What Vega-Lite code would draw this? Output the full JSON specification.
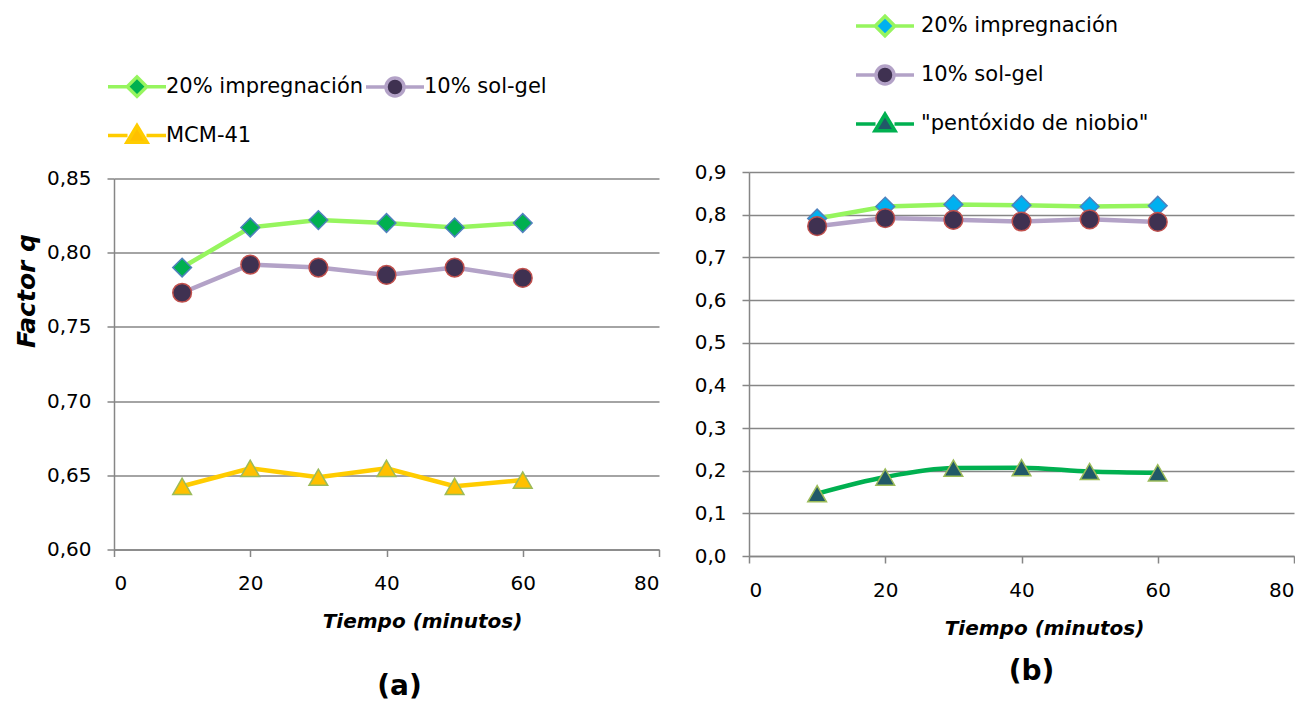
{
  "$schema": "https://vega.github.io/schema/vega-lite/v6.json",
  "background": "white",
  "padding": {"left": 13, "top": 9, "right": 0, "bottom": 0},
  "autosize": {"type": "pad"},
  "bounds": "flush",
  "spacing": 90,
  "center": true,
  "config": {
    "view": {"stroke": null},
    "font": "DejaVu Sans",
    "axis": {"domainColor": "#868686", "domainWidth": 1.5, "tickColor": "#868686", "tickWidth": 1.5, "tickSize": 7, "gridColor": "#868686", "gridWidth": 1.5, "labelFont": "DejaVu Sans", "labelFontSize": 20, "labelColor": "#000000", "titleFont": "DejaVu Sans", "titleFontSize": 20, "titleFontWeight": "bold", "titleFontStyle": "italic", "titleColor": "#000000"},
    "axisX": {"grid": false, "labelPadding": 17, "titlePadding": 18},
    "axisY": {"grid": true, "labelPadding": 16}
  },
  "datasets": {
    "a": [
      {"series": "20% impregnación", "t": 10, "q": 0.790},
      {"series": "20% impregnación", "t": 20, "q": 0.817},
      {"series": "20% impregnación", "t": 30, "q": 0.822},
      {"series": "20% impregnación", "t": 40, "q": 0.820},
      {"series": "20% impregnación", "t": 50, "q": 0.817},
      {"series": "20% impregnación", "t": 60, "q": 0.820},
      {"series": "10% sol-gel", "t": 10, "q": 0.773},
      {"series": "10% sol-gel", "t": 20, "q": 0.792},
      {"series": "10% sol-gel", "t": 30, "q": 0.790},
      {"series": "10% sol-gel", "t": 40, "q": 0.785},
      {"series": "10% sol-gel", "t": 50, "q": 0.790},
      {"series": "10% sol-gel", "t": 60, "q": 0.783},
      {"series": "MCM-41", "t": 10, "q": 0.6426},
      {"series": "MCM-41", "t": 20, "q": 0.6547},
      {"series": "MCM-41", "t": 30, "q": 0.6487},
      {"series": "MCM-41", "t": 40, "q": 0.6547},
      {"series": "MCM-41", "t": 50, "q": 0.6426},
      {"series": "MCM-41", "t": 60, "q": 0.6468}
    ],
    "b": [
      {"series": "20% impregnación", "t": 10, "q": 0.791},
      {"series": "20% impregnación", "t": 20, "q": 0.819},
      {"series": "20% impregnación", "t": 30, "q": 0.824},
      {"series": "20% impregnación", "t": 40, "q": 0.822},
      {"series": "20% impregnación", "t": 50, "q": 0.819},
      {"series": "20% impregnación", "t": 60, "q": 0.821},
      {"series": "10% sol-gel", "t": 10, "q": 0.773},
      {"series": "10% sol-gel", "t": 20, "q": 0.792},
      {"series": "10% sol-gel", "t": 30, "q": 0.788},
      {"series": "10% sol-gel", "t": 40, "q": 0.784},
      {"series": "10% sol-gel", "t": 50, "q": 0.789},
      {"series": "10% sol-gel", "t": 60, "q": 0.783},
      {"series": "\"pentóxido de niobio\"", "t": 10, "q": 0.146},
      {"series": "\"pentóxido de niobio\"", "t": 20, "q": 0.185},
      {"series": "\"pentóxido de niobio\"", "t": 30, "q": 0.206},
      {"series": "\"pentóxido de niobio\"", "t": 40, "q": 0.207},
      {"series": "\"pentóxido de niobio\"", "t": 50, "q": 0.198},
      {"series": "\"pentóxido de niobio\"", "t": 60, "q": 0.195}
    ]
  },
  "hconcat": [
    {
      "width": 545,
      "height": 371,
      "data": {"name": "a"},
      "title": {"text": "(a)", "orient": "bottom", "offset": 41, "dx": 13, "fontSize": 28, "font": "DejaVu Sans", "fontWeight": "bold", "color": "#000000"},
      "encoding": {
        "x": {"field": "t", "type": "quantitative", "scale": {"domain": [0, 80], "nice": false}, "axis": {"values": [0, 20, 40, 60, 80], "title": "Tiempo (minutos)", "titleX": 308}},
        "y": {"field": "q", "type": "quantitative", "scale": {"domain": [0.6, 0.85], "nice": false, "zero": false}, "axis": {"values": [0.6, 0.65, 0.7, 0.75, 0.8, 0.85], "labelExpr": "replace(format(datum.value, '.2f'), '.', ',')", "title": "Factor q", "titleFontSize": 25, "titleX": -88, "titleY": 112, "titleBaseline": "middle"}}
      },
      "layer": [
        {
          "mark": {"type": "line", "strokeWidth": 4.5},
          "encoding": {
            "stroke": {
              "field": "series", "type": "nominal",
              "scale": {"domain": ["20% impregnación", "10% sol-gel", "MCM-41"], "range": ["#96F55E", "#B3A2C7", "#FFCC00"]},
              "legend": {
                "orient": "none", "legendX": -8, "legendY": -109, "title": null, "columns": 2, "direction": "horizontal",
                "symbolSize": 900, "symbolStrokeWidth": 3.5, "labelFont": "DejaVu Sans", "labelFontSize": 21, "labelColor": "#000000",
                "labelOffset": 26, "rowPadding": 15, "columnPadding": -8, "padding": 0, "labelLimit": 400,
                "encode": {"symbols": {"update": {
                  "shape": {"signal": "['M-1,0L0.283,0M1.583,0L2.867,0M0.933,-0.65L1.583,0L0.933,0.65L0.283,0Z','M-1,0L0.333,0M1.533,0L2.867,0M0.333,0A0.6,0.6,0,1,0,1.533,0A0.6,0.6,0,1,0,0.333,0Z','M-1,0L0.3,0M1.566,0L2.867,0M0.933,-0.65L1.6,0.45L0.266,0.45Z'][datum.index]"},
                  "fill": {"signal": "['#00B050','#3F3151','#FFC000'][datum.index]"},
                  "fillOpacity": {"value": 1},
                  "opacity": {"value": 1}
                }}}
              }
            }
          }
        },
        {
          "mark": {"type": "point", "filled": true, "size": 350, "strokeWidth": 1.5, "opacity": 1},
          "encoding": {
            "fill": {"field": "series", "type": "nominal", "scale": {"domain": ["20% impregnación", "10% sol-gel", "MCM-41"], "range": ["#00B050", "#3F3151", "#FFC000"]}, "legend": null},
            "shape": {"field": "series", "type": "nominal", "scale": {"domain": ["20% impregnación", "10% sol-gel", "MCM-41"], "range": ["diamond", "circle", "triangle-up"]}, "legend": null},
            "stroke": {"field": "series", "type": "nominal", "scale": {"domain": ["20% impregnación", "10% sol-gel", "MCM-41"], "range": ["#4F81BD", "#C0504D", "#9BBB59"]}, "legend": null}
          }
        }
      ],
      "resolve": {"scale": {"stroke": "independent", "fill": "independent", "shape": "independent"}}
    },
    {
      "width": 545,
      "height": 384,
      "data": {"name": "b"},
      "title": {"text": "(b)", "orient": "bottom", "offset": 20, "dx": 10, "fontSize": 28, "font": "DejaVu Sans", "fontWeight": "bold", "color": "#000000"},
      "encoding": {
        "x": {"field": "t", "type": "quantitative", "scale": {"domain": [0, 80], "nice": false}, "axis": {"values": [0, 20, 40, 60, 80], "title": "Tiempo (minutos)", "titleX": 295}},
        "y": {"field": "q", "type": "quantitative", "scale": {"domain": [0, 0.9], "nice": false, "zero": false}, "axis": {"values": [0, 0.1, 0.2, 0.3, 0.4, 0.5, 0.6, 0.7, 0.8, 0.9], "labelExpr": "replace(format(datum.value, '.1f'), '.', ',')", "title": null}}
      },
      "layer": [
        {
          "layer": [
            {
              "transform": [{"filter": "datum.series !== '\"pentóxido de niobio\"'"}],
              "mark": {"type": "line", "strokeWidth": 4.5},
              "encoding": {
                "stroke": {
                  "field": "series", "type": "nominal",
                  "scale": {"domain": ["20% impregnación", "10% sol-gel", "\"pentóxido de niobio\""], "range": ["#96F55E", "#B3A2C7", "#00B050"]},
                  "legend": {
                    "orient": "none", "legendX": 105, "legendY": -163, "title": null, "columns": 1, "direction": "vertical",
                    "symbolSize": 900, "symbolStrokeWidth": 3.5, "labelFont": "DejaVu Sans", "labelFontSize": 21, "labelColor": "#000000",
                    "labelOffset": 33, "rowPadding": 15, "padding": 0, "labelLimit": 400,
                    "encode": {"symbols": {"update": {
                      "shape": {"signal": "['M-1,0L0.283,0M1.583,0L2.867,0M0.933,-0.65L1.583,0L0.933,0.65L0.283,0Z','M-1,0L0.333,0M1.533,0L2.867,0M0.333,0A0.6,0.6,0,1,0,1.533,0A0.6,0.6,0,1,0,0.333,0Z','M-1,0L0.3,0M1.566,0L2.867,0M0.933,-0.65L1.6,0.45L0.266,0.45Z'][datum.index]"},
                      "fill": {"signal": "['#00B0F0','#3F3151','#215968'][datum.index]"},
                      "fillOpacity": {"value": 1},
                      "opacity": {"value": 1}
                    }}}
                  }
                }
              }
            },
            {
              "transform": [{"filter": "datum.series === '\"pentóxido de niobio\"'"}],
              "mark": {"type": "line", "strokeWidth": 4.5, "interpolate": "monotone"},
              "encoding": {
                "stroke": {
                  "field": "series", "type": "nominal",
                  "scale": {"domain": ["20% impregnación", "10% sol-gel", "\"pentóxido de niobio\""], "range": ["#96F55E", "#B3A2C7", "#00B050"]}
                }
              }
            }
          ]
        },
        {
          "mark": {"type": "point", "filled": true, "size": 350, "strokeWidth": 1.5, "opacity": 1},
          "encoding": {
            "fill": {"field": "series", "type": "nominal", "scale": {"domain": ["20% impregnación", "10% sol-gel", "\"pentóxido de niobio\""], "range": ["#00B0F0", "#3F3151", "#215968"]}, "legend": null},
            "shape": {"field": "series", "type": "nominal", "scale": {"domain": ["20% impregnación", "10% sol-gel", "\"pentóxido de niobio\""], "range": ["diamond", "circle", "triangle-up"]}, "legend": null},
            "stroke": {"field": "series", "type": "nominal", "scale": {"domain": ["20% impregnación", "10% sol-gel", "\"pentóxido de niobio\""], "range": ["#4F81BD", "#C0504D", "#9BBB59"]}, "legend": null}
          }
        }
      ],
      "resolve": {"scale": {"stroke": "independent", "fill": "independent", "shape": "independent"}}
    }
  ]
}
